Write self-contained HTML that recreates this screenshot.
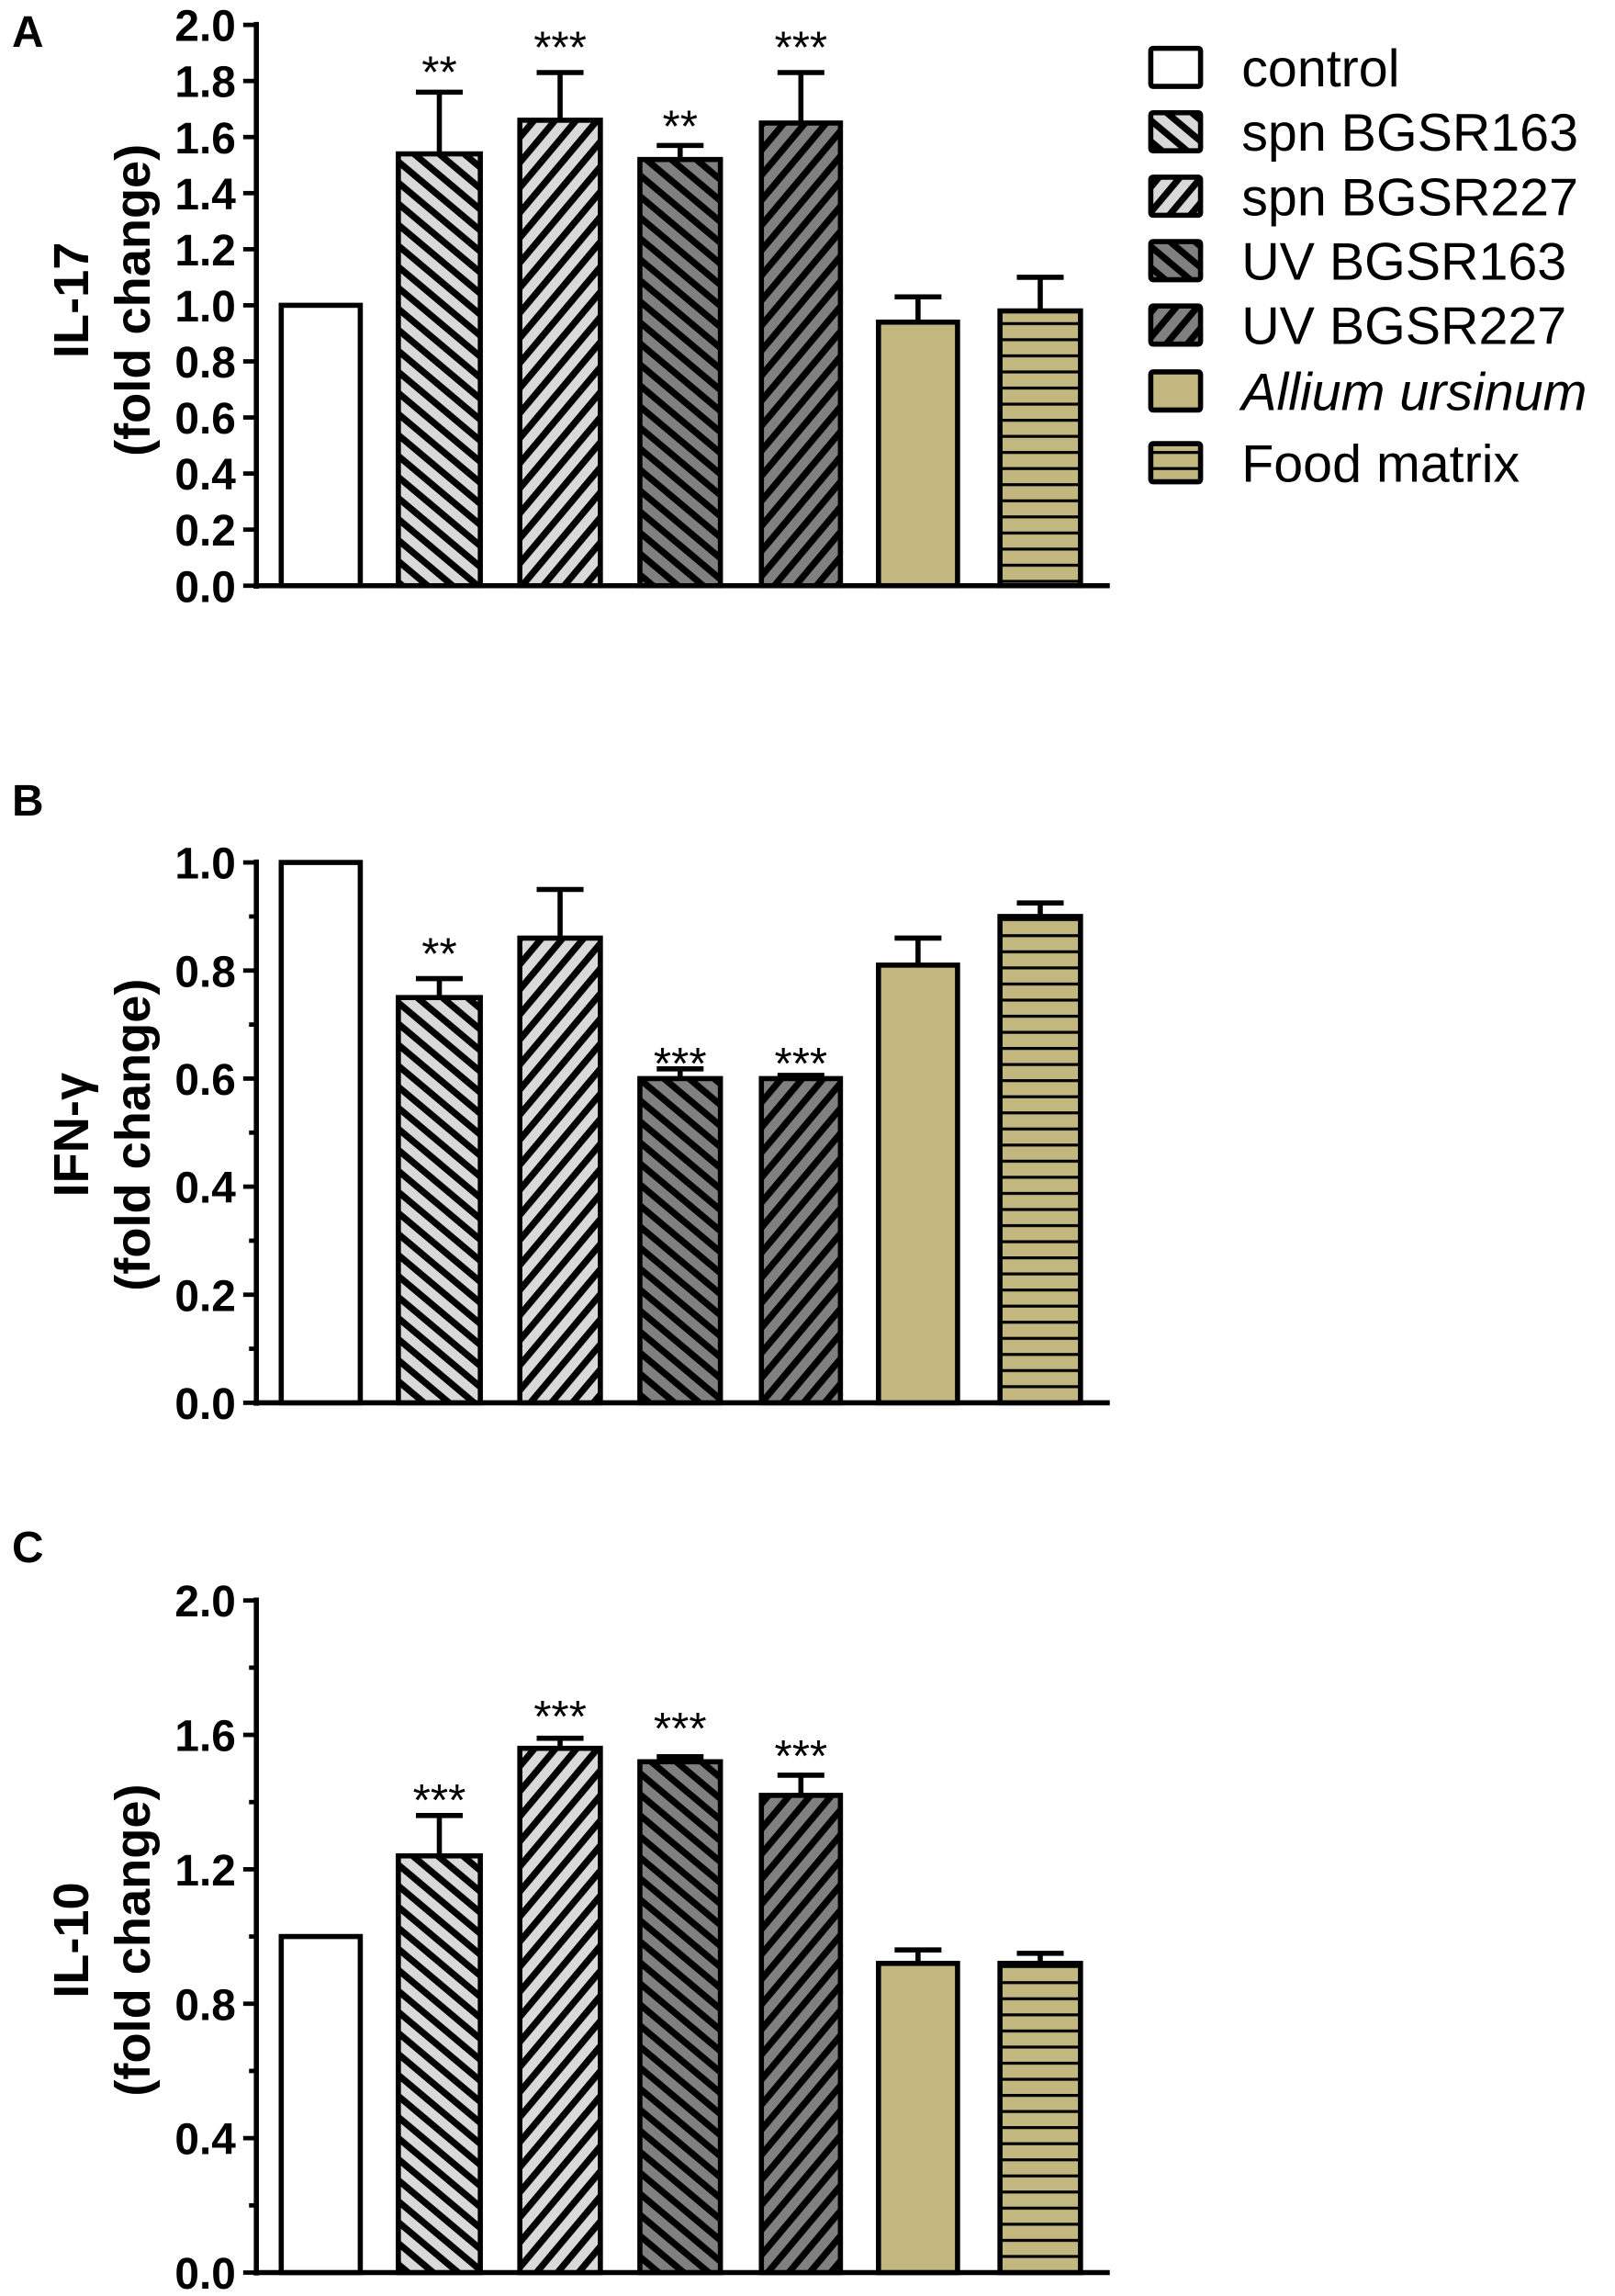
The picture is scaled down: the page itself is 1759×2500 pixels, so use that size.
<!DOCTYPE html>
<html><head><meta charset="utf-8"><style>
html,body{margin:0;padding:0;background:#fff}
svg{display:block}
text{font-family:"Liberation Sans",Arial,sans-serif}
.t{font-size:30px;font-weight:bold;text-anchor:end}
.yl{font-size:34px;font-weight:bold;text-anchor:middle}
.st{font-size:31px;text-anchor:middle}
.lg{font-size:36px}
</style></head><body>
<svg width="1759" height="2500" viewBox="0 0 1103 1568" xmlns="http://www.w3.org/2000/svg">
<defs>
<pattern id="l1" patternUnits="userSpaceOnUse" width="11" height="11" patternTransform="rotate(-50)"><rect width="11" height="11" fill="#d9d9d9"/><rect width="4.5" height="11" fill="#000"/></pattern>
<pattern id="l2" patternUnits="userSpaceOnUse" width="11" height="11" patternTransform="rotate(40)"><rect width="11" height="11" fill="#d9d9d9"/><rect width="4.5" height="11" fill="#000"/></pattern>
<pattern id="d1" patternUnits="userSpaceOnUse" width="11" height="11" patternTransform="rotate(-50)"><rect width="11" height="11" fill="#808080"/><rect width="4.5" height="11" fill="#000"/></pattern>
<pattern id="d2" patternUnits="userSpaceOnUse" width="11" height="11" patternTransform="rotate(40)"><rect width="11" height="11" fill="#808080"/><rect width="4.5" height="11" fill="#000"/></pattern>
<pattern id="fm" patternUnits="userSpaceOnUse" width="11" height="11"><rect width="11" height="11" fill="#c2b77e"/><rect width="11" height="2" fill="#000"/></pattern>
</defs>
<g id="all" stroke-linejoin="miter"></g>
<script>
(function(){
const NS="http://www.w3.org/2000/svg",g=document.getElementById('all');
function el(n,a,t){const e=document.createElementNS(NS,n);for(const k in a)e.setAttribute(k,a[k]);if(t!==undefined)e.textContent=t;g.appendChild(e);return e;}
const fills=["#fff","url(#l1)","url(#l2)","url(#d1)","url(#d2)","#c2b77e","url(#fm)"];
const xs=[[192,246],[272,328],[355,410],[437,492],[520,574],[600,654],[683,738]];
function panel(p){
  const y0=p.y0,sc=(p.y0-p.ytop)/p.max;
  const Y=v=>y0-v*sc;
  el('line',{x1:175,y1:y0+2,x2:175,y2:p.ytop-2,stroke:'#000','stroke-width':3.5});
  el('line',{x1:173,y1:y0,x2:758,y2:y0,stroke:'#000','stroke-width':3.5});
  p.ticks.forEach(v=>{el('line',{x1:166,y1:Y(v),x2:175,y2:Y(v),stroke:'#000','stroke-width':3});
    el('text',{x:161,y:Y(v)+11,class:'t'},v.toFixed(1));});
  if(p.minor)p.minor.forEach(v=>el('line',{x1:170,y1:Y(v),x2:175,y2:Y(v),stroke:'#000','stroke-width':3}));
  p.vals.forEach((d,i)=>{const [a,b]=xs[i],c=(a+b)/2;
    if(d[1]){el('line',{x1:c,y1:Y(d[0]),x2:c,y2:Y(d[1]),stroke:'#000','stroke-width':3.5});
      el('line',{x1:c-16,y1:Y(d[1]),x2:c+16,y2:Y(d[1]),stroke:'#000','stroke-width':3.5});}
    el('rect',{x:a,y:Y(d[0]),width:b-a,height:y0-Y(d[0]),fill:fills[i],stroke:'#000','stroke-width':3.5});
    if(d[2])el('text',{x:c,y:d[3],class:'st'},d[2]);
  });
  el('text',{x:8,y:p.ly,'font-size':30,'font-weight':'bold'},p.letter);
  el('text',{x:0,y:0,class:'yl',transform:`translate(${p.lx1},${p.lyc}) rotate(-90)`},p.lab);
  el('text',{x:0,y:0,class:'yl',transform:`translate(${p.lx1+42},${p.lyc}) rotate(-90)`},'(fold change)');
}
panel({y0:400,ytop:17,max:2.0,ticks:[0,0.2,0.4,0.6,0.8,1.0,1.2,1.4,1.6,1.8,2.0],letter:'A',ly:32,lx1:60,lyc:205,lab:'IL-17',
 vals:[[1.0],[1.54,1.76,'**',60],[1.66,1.83,'***',43],[1.52,1.57,'**',97],[1.65,1.83,'***',43],[0.94,1.03],[0.98,1.10]]});
panel({y0:958,ytop:589,max:1.0,ticks:[0,0.2,0.4,0.6,0.8,1.0],minor:[0.1,0.3,0.5,0.7,0.9],letter:'B',ly:557,lx1:60,lyc:775,lab:'IFN-γ',
 vals:[[1.0],[0.75,0.785,'**',662],[0.86,0.95],[0.60,0.618,'***',737],[0.60,0.606,'***',737],[0.81,0.86],[0.90,0.925]]});
panel({y0:1552,ytop:1093,max:2.0,ticks:[0,0.4,0.8,1.2,1.6,2.0],minor:[0.2,0.6,1.0,1.4,1.8],letter:'C',ly:1067,lx1:60,lyc:1325,lab:'IL-10',
 vals:[[1.0],[1.24,1.36,'***',1240],[1.56,1.59,'***',1183],[1.52,1.535,'***',1191],[1.42,1.48,'***',1210],[0.92,0.96],[0.92,0.95]]});
const lab=['control','spn BGSR163','spn BGSR227','UV BGSR163','UV BGSR227','Allium ursinum','Food matrix'];
const cy=[46,90,134,178,222,267,316];
lab.forEach((s,i)=>{el('rect',{x:786,y:cy[i]-13,width:34,height:26,fill:fills[i],stroke:'#000','stroke-width':3.5,rx:1.5});
  const t=el('text',{x:848,y:cy[i]+13,class:'lg'},s);if(i==5)t.setAttribute('font-style','italic');});
})();
</script>
</svg>
</body></html>
